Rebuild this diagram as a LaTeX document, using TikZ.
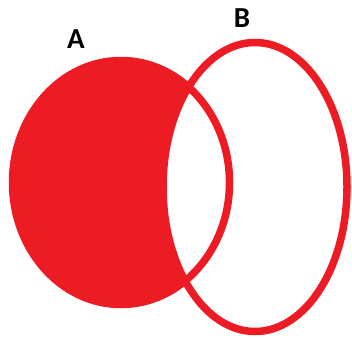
\documentclass[tikz,border=0pt]{standalone}
\usepackage{fontspec}
\setmainfont{Carlito}
\definecolor{paintred}{RGB}{237,28,36}

\begin{document}
\begin{tikzpicture}[
    x=1pt, y=-1pt,
    setline/.style={draw=paintred, line width=7.5pt},
    setlabel/.style={inner sep=0pt, font=\fontsize{29}{31}\selectfont\bfseries}
  ]
    \useasboundingbox (0,0) rectangle (352,337);
    % A without B
    \fill[paintred] (121,182.5) ellipse [x radius=108.5, y radius=122];
    \fill[white] (255,187) ellipse [x radius=92, y radius=144.5];
    \draw[setline] (121,182.5) ellipse [x radius=108.5, y radius=122];
    \draw[setline] (255,187) ellipse [x radius=92, y radius=144.5];
    \node[setlabel] (labelA) at (76,39) {A};
    \node[setlabel] (labelB) at (242,18) {B};
  \end{tikzpicture}
\end{document}
